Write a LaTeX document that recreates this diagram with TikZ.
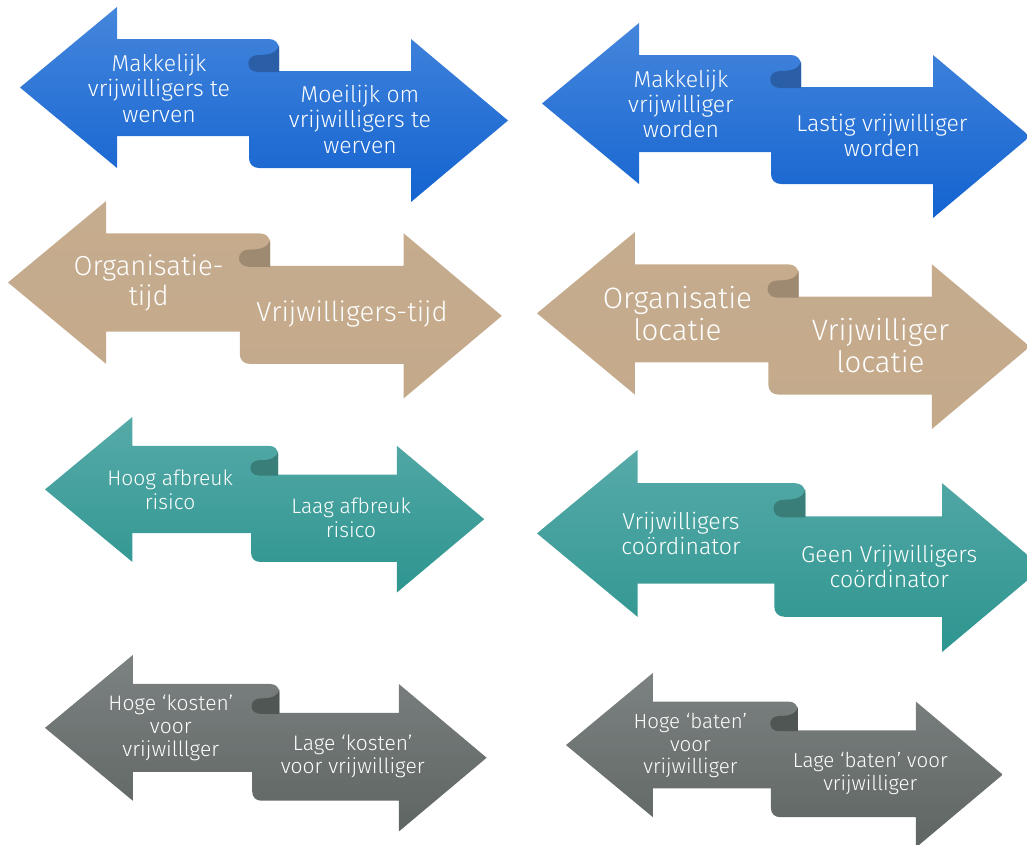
\documentclass[tikz,border=0pt]{standalone}
\usepackage{fontspec}
\setmainfont{Fira Sans}[UprightFont=* Light]
\definecolor{blueTop}{HTML}{4586DC}
\definecolor{blueBot}{HTML}{1363D0}
\definecolor{blueFold}{HTML}{2A5FA8}
\definecolor{tanTop}{HTML}{C6AC8E}
\definecolor{tanBot}{HTML}{C4AA8B}
\definecolor{tanFold}{HTML}{9E8A70}
\definecolor{tealTop}{HTML}{56AAA8}
\definecolor{tealBot}{HTML}{2E958F}
\definecolor{tealFold}{HTML}{3A7E79}
\definecolor{grayTop}{HTML}{7C8281}
\definecolor{grayBot}{HTML}{5E6563}
\definecolor{grayFold}{HTML}{4F5654}
\tikzset{lbl/.style={text=white,align=center,inner sep=0pt}}
% #1 name, #2 x, #3 y, #4 scale, #5 colour set, #6 font, #7 left text, #8 right text
\newcommand\scrollpair[8]{%
  \begin{scope}[shift={(#2,#3)},scale=#4]
    \shade[top color=#5Top,bottom color=#5Bot]
      (0,80.5) -- (97,0) -- (97,32) -- (249,32)
      .. controls (255,32) and (259,36) .. (259,42)
      -- (259,64) -- (391,64) -- (391,32) -- (488,113.5) -- (391,195)
      -- (391,161) -- (239,161)
      .. controls (233,161) and (229,157) .. (229,151)
      -- (229,129) -- (97,129) -- (97,161) -- cycle;
    \fill[#5Fold] (259,38) .. controls (257,46) and (250,48) .. (238,48)
      .. controls (225,48) and (225,65) .. (238,65) -- (259,65) -- cycle;
    \node[lbl,font=#6] (#1L) at (139,81) {#7};
    \node[lbl,font=#6] (#1R) at (340,112) {#8};
  \end{scope}}
\begin{document}
\begin{tikzpicture}[x=1pt,y=-1pt]
\useasboundingbox (0,0) rectangle (1027,844);
\clip (0,0) rectangle (1027,844);
\scrollpair{pa}{20}{7}{1}{blue}{\fontsize{23}{25.5}\selectfont}{Makkelijk\\vrijwilligers te\\werven}{Moeilijk om\\vrijwilligers te\\werven}
\scrollpair{pb}{542}{23}{1}{blue}{\fontsize{23}{25}\selectfont}{Makkelijk\\vrijwilliger\\worden}{Lastig vrijwilliger\\worden}
\scrollpair{pc}{8}{201}{1.012}{tan}{\fontsize{27.5}{30}\selectfont}{Organisatie-\\tijd}{Vrijwilligers-tijd}
\scrollpair{pd}{537}{232}{1.01}{tan}{\fontsize{29.5}{32}\selectfont}{Organisatie\\locatie}{Vrijwilliger\\locatie}
\scrollpair{pe}{45}{417}{0.9}{teal}{\fontsize{21}{23.5}\selectfont}{Hoog afbreuk\\risico}{Laag afbreuk\\risico}
\scrollpair{pf}{537}{450}{1.036}{teal}{\fontsize{23}{25}\selectfont}{Vrijwilligers\\coördinator}{Geen Vrijwilligers\\coördinator}
\scrollpair{pg}{45}{655}{0.905}{gray}{\fontsize{21}{23}\selectfont}{Hoge ‘kosten’\\voor\\vrijwilllger}{Lage ‘kosten’\\voor vrijwilliger}
\scrollpair{ph}{566}{673}{0.895}{gray}{\fontsize{20.5}{22.5}\selectfont}{Hoge ‘baten’\\voor\\vrijwilliger}{Lage ‘baten’ voor\\vrijwilliger}
\end{tikzpicture}
\end{document}
